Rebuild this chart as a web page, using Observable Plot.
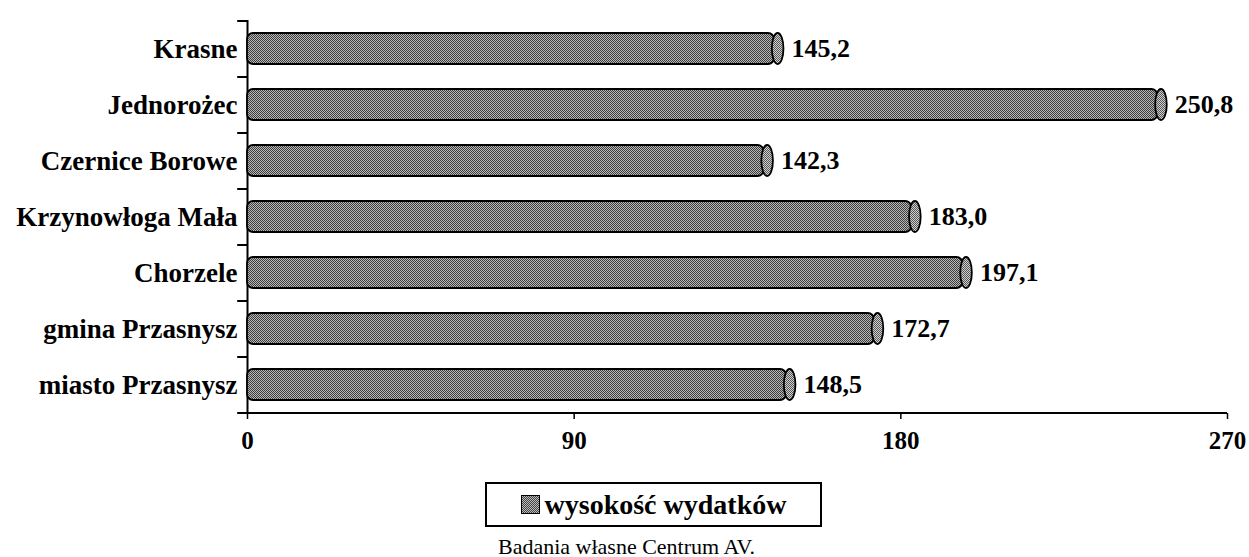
<!DOCTYPE html>
<html>
<head>
<meta charset="utf-8">
<script src="https://cdn.jsdelivr.net/npm/d3@7"></script>
<script src="https://cdn.jsdelivr.net/npm/@observablehq/plot@0.6"></script>
<style>
  html, body { margin: 0; padding: 0; background: #fff; }
  body { width: 1249px; height: 557px; overflow: hidden; font-family: "Liberation Serif", "Times New Roman", serif; }
  #legend { margin-left: 485px; margin-top: 12px; width: 333px; height: 41px; border: 2px solid #000;
    display: flex; align-items: center; justify-content: center; font-weight: bold; font-size: 28px; box-sizing: content-box; }
  #legend .sw { width: 17px; height: 17px; border: 1.5px solid #000; margin-right: 5px;
    background: repeating-conic-gradient(#444 0% 25%, #bbb 0% 50%) 0 0 / 2px 2px; }
  #caption { margin-left: 498px; margin-top: 7px; font-size: 22px; }
</style>
</head>
<body>
<div id="chart"></div>
<div id="legend"><span class="sw"></span><span>wysokość wydatków</span></div>
<div id="caption">Badania własne Centrum AV.</div>
<script>
const categories = ["Krasne", "Jednorożec", "Czernice Borowe", "Krzynowłoga Mała", "Chorzele", "gmina Przasnysz", "miasto Przasnysz"];
const values = [145.2, 250.8, 142.3, 183.0, 197.1, 172.7, 148.5];
const xTicks = [0, 90, 180, 270];

const data = categories.map((c, i) => ({name: c, value: values[i]}));
const fmt = v => v.toFixed(1).replace(".", ",");
const serif = "Liberation Serif, Times New Roman, serif";

const chart = Plot.plot({
  width: 1249,
  height: 470,
  marginLeft: 247,
  marginRight: 22,
  marginTop: 20,
  marginBottom: 57,
  style: {fontFamily: serif, fontSize: "24px", fontWeight: "bold", color: "#000", background: "#fff"},
  x: {domain: [0, 270], ticks: xTicks, tickSize: 6, tickPadding: 12, tickFormat: d => d, label: null},
  y: {domain: categories, paddingInner: 0.45, paddingOuter: 0.225, tickSize: 0, tickPadding: 10, label: null},
  marks: [
    Plot.ruleX([0], {stroke: "#000", strokeWidth: 2}),
    Plot.ruleY(categories, {y: d => d, x1: -2.7, x2: 0, dy: -28, stroke: "#000", strokeWidth: 2}),
    Plot.barX(data, {y: "name", x1: 0, x2: "value", fill: "url(#dither)", stroke: "#000", strokeWidth: 1.8, rx: 6}),
    Plot.barX(data, {y: "name", x1: d => d.value - 0.6, x2: d => d.value + 2.6, fill: "url(#dither2)", stroke: "#000", strokeWidth: 1.8, rx: 5.8, ry: 16}),
    Plot.text(data, {y: "name", x: "value", text: d => fmt(d.value), dx: 17, textAnchor: "start", fontSize: 26, fontWeight: "bold", fill: "#000"}),
    Plot.ruleY([categories[categories.length - 1]], {x1: -2.7, x2: 270, dy: 28, stroke: "#000", strokeWidth: 2}),
    Plot.axisX({ticks: xTicks, tickSize: 6, tickPadding: 12, fontSize: 25, fontWeight: "bold", strokeWidth: 1.5}),
    Plot.axisY({tickSize: 0, tickPadding: 10, fontSize: 27, fontWeight: "bold"})
  ]
});

const svg = d3.select(chart);
const defs = svg.insert("defs", ":first-child");
function dither(id, light, dark) {
  const p = defs.append("pattern").attr("id", id).attr("patternUnits", "userSpaceOnUse").attr("width", 2).attr("height", 2);
  p.append("rect").attr("width", 2).attr("height", 2).attr("fill", light);
  p.append("rect").attr("width", 1).attr("height", 1).attr("fill", dark);
  p.append("rect").attr("x", 1).attr("y", 1).attr("width", 1).attr("height", 1).attr("fill", dark);
}
dither("dither", "#b8b8b8", "#3c3c3c");
dither("dither2", "#d0d0d0", "#555");

document.getElementById("chart").appendChild(chart);
</script>
</body>
</html>
